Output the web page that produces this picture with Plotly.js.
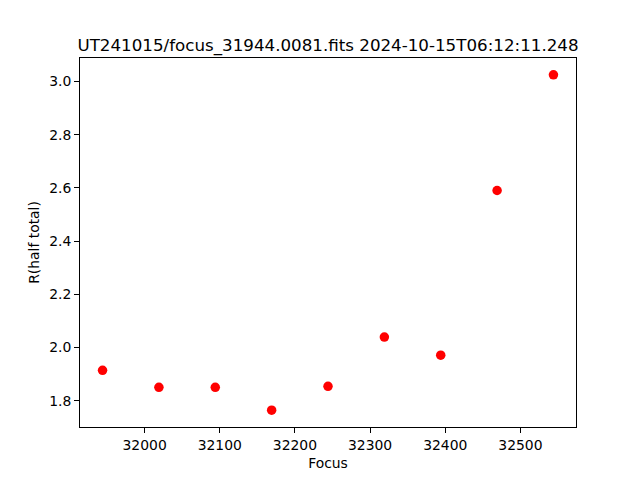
<!DOCTYPE html>
<html>
<head>
<meta charset="utf-8">
<script src="https://cdn.plot.ly/plotly-3.0.1.min.js"></script>
<style>html,body{margin:0;padding:0;background:#fff;}#chart{width:640px;height:480px;}</style>
</head>
<body>
<div id="chart"></div>
<script>
const focus = [31944, 32019, 32094, 32169, 32244, 32319, 32394, 32469, 32544];
const rHalfTotal = [1.914, 1.850, 1.850, 1.764, 1.854, 2.039, 1.971, 2.590, 3.025];
const titleText = "UT241015/focus_31944.0081.fits 2024-10-15T06:12:11.248";
const xTicks = [32000, 32100, 32200, 32300, 32400, 32500];
const yTicks = [1.8, 2.0, 2.2, 2.4, 2.6, 2.8, 3.0];

function padRange(arr) {
  const mn = Math.min(...arr), mx = Math.max(...arr);
  const d = (mx - mn) * 0.05;
  return [mn - d, mx + d];
}

const font = "DejaVu Sans, sans-serif";
const axisCommon = {
  showgrid: false,
  zeroline: false,
  showline: true,
  linecolor: "#000",
  linewidth: 1,
  mirror: true,
  ticks: "outside",
  ticklen: 5,
  tickwidth: 1,
  tickcolor: "#000",
  tickfont: {family: font, size: 13.9, color: "#000"}
};

Plotly.newPlot("chart", [{
  x: focus,
  y: rHalfTotal,
  type: "scatter",
  mode: "markers",
  marker: {color: "#ff0000", size: 9.5}
}], {
  width: 640, height: 480,
  margin: {l: 80, r: 64, t: 58, b: 53},
  paper_bgcolor: "#fff", plot_bgcolor: "#fff",
  showlegend: false,
  title: {text: titleText, font: {family: font, size: 16.7, color: "#000"},
          x: 0.5, xref: "paper", y: 1, yref: "paper", yanchor: "bottom", pad: {b: 7}},
  xaxis: Object.assign({}, axisCommon, {
    range: padRange(focus),
    tickvals: xTicks,
    ticktext: xTicks.map(String),
    title: {text: "Focus", font: {family: font, size: 13.9, color: "#000"}, standoff: 6}
  }),
  yaxis: Object.assign({}, axisCommon, {
    range: padRange(rHalfTotal),
    tickvals: yTicks,
    ticktext: yTicks.map(v => v.toFixed(1)),
    title: {text: "R(half total)", font: {family: font, size: 13.9, color: "#000"}, standoff: 6}
  })
}, {displayModeBar: false, staticPlot: true});
</script>
</body>
</html>
